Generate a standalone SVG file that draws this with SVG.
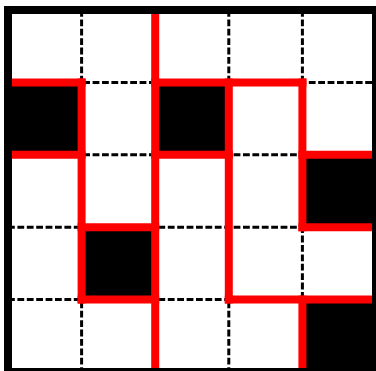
<svg xmlns="http://www.w3.org/2000/svg" width="376" height="371" viewBox="0 0 376 371">
<style>
.cell{fill:#000}
.grid{stroke:#000;stroke-width:3;stroke-dasharray:6.8 2.6;fill:none}
.wall{stroke:#ff0000;stroke-width:8;stroke-linecap:square;fill:none}
.border{stroke:#000;stroke-width:8;fill:none}
</style>
<rect x="0" y="0" width="376" height="371" fill="#fff"/>
<g id="cells">
<rect class="cell" x="8" y="82.4" width="73.6" height="72.4"/>
<rect class="cell" x="155.2" y="82.4" width="73.6" height="72.4"/>
<rect class="cell" x="302.4" y="154.8" width="73.6" height="72.4"/>
<rect class="cell" x="81.6" y="227.2" width="73.6" height="72.4"/>
<rect class="cell" x="302.4" y="299.6" width="73.6" height="72.4"/>
</g>
<g id="grid" class="grid">
<path d="M81.6,10V372M155.2,10V372M228.8,10V372M302.4,10V372"/>
<path d="M8,82.4H376M8,154.8H376M8,227.2H376M8,299.6H376"/>
</g>
<g id="walls" class="wall">
<path d="M155.2,10V372"/>
<path d="M8,82.4H81.6"/>
<path d="M81.6,82.4V299.6"/>
<path d="M8,154.8H81.6"/>
<path d="M81.6,227.2H155.2"/>
<path d="M81.6,299.6H155.2"/>
<path d="M155.2,82.4H302.4"/>
<path d="M155.2,154.8H228.8"/>
<path d="M228.8,82.4V299.6"/>
<path d="M228.8,299.6H376"/>
<path d="M302.4,82.4V227.2"/>
<path d="M302.4,227.2H376"/>
<path d="M302.4,154.8H376"/>
<path d="M302.4,299.6V372"/>
</g>
<rect id="border" class="border" x="8" y="10" width="368" height="362"/>
</svg>
